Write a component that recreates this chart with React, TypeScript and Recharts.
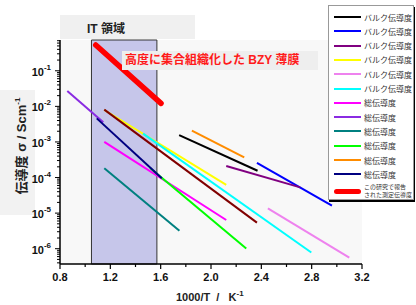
import React from 'react';
import {
  LineChart,
  Line,
  XAxis,
  YAxis,
  CartesianGrid,
  ReferenceArea,
} from 'recharts';

const FONT = "'Liberation Sans', Arial, 'Noto Sans CJK JP', sans-serif";

// 1000/T (K^-1) vs conductivity (S/cm), two end points per literature line
const bulkBlack = [{ x: 1.747, y: 1.56e-3 }, { x: 2.37, y: 1.55e-4 }];
const bulkBlue = [{ x: 2.365, y: 2.6e-4 }, { x: 2.961, y: 1.62e-5 }];
const bulkPurple = [{ x: 2.121, y: 2.1e-4 }, { x: 2.709, y: 5.3e-5 }];
const bulkYellow = [{ x: 1.152, y: 7.9e-3 }, { x: 2.121, y: 6.2e-5 }];
const bulkViolet = [{ x: 2.452, y: 1.36e-5 }, { x: 3.099, y: 5.6e-7 }];
const bulkCyan = [{ x: 1.46, y: 1.72e-3 }, { x: 2.797, y: 7.8e-7 }];
const totalMagenta = [{ x: 1.152, y: 1.01e-3 }, { x: 2.121, y: 6.4e-6 }];
const totalBlueViolet = [{ x: 0.858, y: 2.69e-2 }, { x: 1.144, y: 3.55e-3 }];
const totalTeal = [{ x: 1.152, y: 1.82e-4 }, { x: 1.749, y: 3.2e-6 }];
const totalLime = [{ x: 1.516, y: 1.86e-4 }, { x: 2.28, y: 1.02e-6 }];
const totalOrange = [{ x: 1.848, y: 2.07e-3 }, { x: 2.264, y: 3.7e-4 }];
const totalNavy = [{ x: 1.092, y: 4.6e-3 }, { x: 1.609, y: 9.5e-5 }];
const extraMaroon = [{ x: 1.152, y: 8.1e-3 }, { x: 2.365, y: 5.4e-6 }];
const thisWork = [{ x: 1.084, y: 0.53 }, { x: 1.603, y: 0.0121 }];

const xTicks = [0.8, 1.0, 1.2, 1.4, 1.6, 1.8, 2.0, 2.2, 2.4, 2.6, 2.8, 3.0, 3.2];
const yDomain = [Math.pow(10, -6.43), Math.pow(10, -0.135)];
const yTicks: number[] = [];
for (let e = -7; e <= -1; e++) {
  for (let m = 1; m <= 9; m++) {
    const v = m * Math.pow(10, e);
    if (v >= yDomain[0] && v <= yDomain[1]) yTicks.push(v);
  }
}

const BULK = 'バルク伝導度';
const TOTAL = '総伝導度';

const series = [
  { name: BULK, color: '#000000', data: bulkBlack, legend: true },
  { name: BULK, color: '#0000ff', data: bulkBlue, legend: true },
  { name: BULK, color: '#800080', data: bulkPurple, legend: true },
  { name: BULK, color: '#ffff00', data: bulkYellow, legend: true },
  { name: BULK, color: '#ee82ee', data: bulkViolet, legend: true },
  { name: BULK, color: '#00ffff', data: bulkCyan, legend: true },
  { name: TOTAL, color: '#ff00ff', data: totalMagenta, legend: true },
  { name: TOTAL, color: '#8a2be2', data: totalBlueViolet, legend: true },
  { name: TOTAL, color: '#008080', data: totalTeal, legend: true },
  { name: TOTAL, color: '#00ff00', data: totalLime, legend: true },
  { name: TOTAL, color: '#ff8c00', data: totalOrange, legend: true },
  { name: TOTAL, color: '#000080', data: totalNavy, legend: true },
  { name: '', color: '#800000', data: extraMaroon, legend: false },
];

const XTick = (props: any) => {
  const { x, y, payload } = props;
  const v = payload.value;
  const major = Math.round((v - 0.8) / 0.2) % 2 === 0;
  return (
    <g>
      <line x1={x} x2={x} y1={y} y2={y + (major ? 5 : 3)} stroke="#000" strokeWidth={1.2} />
      {major && (
        <text x={x} y={y + 17} textAnchor="middle" fontSize={11} fontWeight="bold" fontFamily={FONT} fill="#111">
          {v.toFixed(1)}
        </text>
      )}
    </g>
  );
};

const YTick = (props: any) => {
  const { x, y, payload } = props;
  const v = payload.value;
  const e = Math.round(Math.log10(v));
  const major = Math.abs(v / Math.pow(10, e) - 1) < 1e-6;
  return (
    <g>
      <line x1={x} x2={x - (major ? 5 : 3)} y1={y} y2={y} stroke="#000" strokeWidth={1} />
      {major && (
        <text x={x - 9} y={y + 5} textAnchor="end" fontSize={11} fontWeight="bold" fontFamily={FONT} fill="#111">
          <tspan>10</tspan>
          <tspan dy={-6} fontSize={8}>{e}</tspan>
        </text>
      )}
    </g>
  );
};

const LegendBox = () => (
  <div
    style={{
      position: 'absolute',
      left: 328,
      top: 5,
      width: 84,
      height: 193,
      background: '#fff',
      border: '1px solid #999',
      boxShadow: '1px 2px 0 #000',
      fontFamily: FONT,
      color: '#333',
    }}
  >
    {series.filter((s) => s.legend).map((s, i) => (
      <div key={i} style={{ position: 'absolute', top: 6 + i * 14.3, left: 5, height: 10, display: 'flex', alignItems: 'center' }}>
        <div style={{ width: 27, height: 2, background: s.color }} />
        <span style={{ fontSize: 8, marginLeft: 3, whiteSpace: 'nowrap' }}>{s.name}</span>
      </div>
    ))}
    <div style={{ position: 'absolute', top: 177, left: 5, height: 16, display: 'flex', alignItems: 'center' }}>
      <div style={{ width: 27, height: 5, borderRadius: 3, background: '#ff0000' }} />
      <span style={{ fontSize: 6, marginLeft: 3, lineHeight: '8px', whiteSpace: 'nowrap' }}>
        この研究で報告
        <br />
        された測定伝導度
      </span>
    </div>
  </div>
);

export default function App() {
  return (
    <div style={{ position: 'relative', width: 416, height: 305, background: '#fff', fontFamily: FONT }}>
      <style>{'body{margin:0}'}</style>
      <div style={{ position: 'absolute', left: 60, top: 15, width: 135, height: 24, background: '#f0f0f0' }} />
      <div style={{ position: 'absolute', left: 0, top: 90, width: 35, height: 125, background: '#f2f2f2' }} />
      <LineChart width={416} height={305} margin={{ top: 40, right: 54, bottom: 11, left: 20 }}>
        <CartesianGrid fill="#f8f8f8" horizontal={false} vertical={false} />
        <XAxis
          dataKey="x"
          type="number"
          domain={[0.8, 3.2]}
          ticks={xTicks}
          interval={0}
          allowDataOverflow
          height={30}
          tickSize={0}
          tickMargin={0}
          tickLine={false}
          tick={<XTick />}
          axisLine={{ stroke: '#000', strokeWidth: 1.5 }}
        />
        <XAxis
          xAxisId="top"
          orientation="top"
          type="number"
          domain={[0.8, 3.2]}
          height={0}
          tick={false}
          tickLine={false}
          axisLine={{ stroke: '#000', strokeWidth: 1.5 }}
        />
        <YAxis
          type="number"
          scale="log"
          domain={yDomain}
          ticks={yTicks}
          interval={0}
          allowDataOverflow
          width={40}
          tickSize={0}
          tickMargin={0}
          tickLine={false}
          tick={<YTick />}
          axisLine={{ stroke: '#000', strokeWidth: 1.5 }}
        />
        <YAxis
          yAxisId="right"
          orientation="right"
          type="number"
          domain={[0, 1]}
          width={0}
          tick={false}
          tickLine={false}
          axisLine={{ stroke: '#000', strokeWidth: 1.5 }}
        />
        <ReferenceArea x1={1.05} x2={1.57} fill="#c6c6ea" fillOpacity={1} stroke="#333" strokeWidth={1} />
        {series.map((s, i) => (
          <Line
            key={i}
            data={s.data}
            dataKey="y"
            type="linear"
            stroke={s.color}
            strokeWidth={2}
            dot={false}
            activeDot={false}
            isAnimationActive={false}
          />
        ))}
        <Line
          data={thisWork}
          dataKey="y"
          type="linear"
          stroke="#ff0000"
          strokeWidth={5.5}
          strokeLinecap="round"
          dot={false}
          activeDot={false}
          isAnimationActive={false}
        />
      </LineChart>
      <div style={{ position: 'absolute', left: 87, top: 19, fontSize: 12, fontWeight: 'bold', color: '#222' }}>IT 領域</div>
      <div
        style={{
          position: 'absolute',
          left: 122,
          top: 51,
          width: 196,
          height: 19,
          background: '#eeeeee',
          paddingLeft: 3,
          boxSizing: 'border-box',
          fontSize: 12,
          fontWeight: 'bold',
          color: '#ff1a1a',
          lineHeight: '19px',
          whiteSpace: 'nowrap',
        }}
      >
        高度に集合組織化した BZY 薄膜
      </div>
      <div
        style={{
          position: 'absolute',
          left: 20,
          top: 146,
          transform: 'translate(-50%, -50%) rotate(-90deg)',
          fontSize: 13,
          fontWeight: 'bold',
          color: '#222',
          whiteSpace: 'nowrap',
        }}
      >
        伝導度 σ / Scm<sup style={{ fontSize: 8 }}>-1</sup>
      </div>
      <div style={{ position: 'absolute', left: 176, top: 289, fontSize: 11, fontWeight: 'bold', color: '#222', whiteSpace: 'pre' }}>
        {'1000/T  /   K'}
        <sup style={{ fontSize: 8 }}>-1</sup>
      </div>
      <LegendBox />
    </div>
  );
}
